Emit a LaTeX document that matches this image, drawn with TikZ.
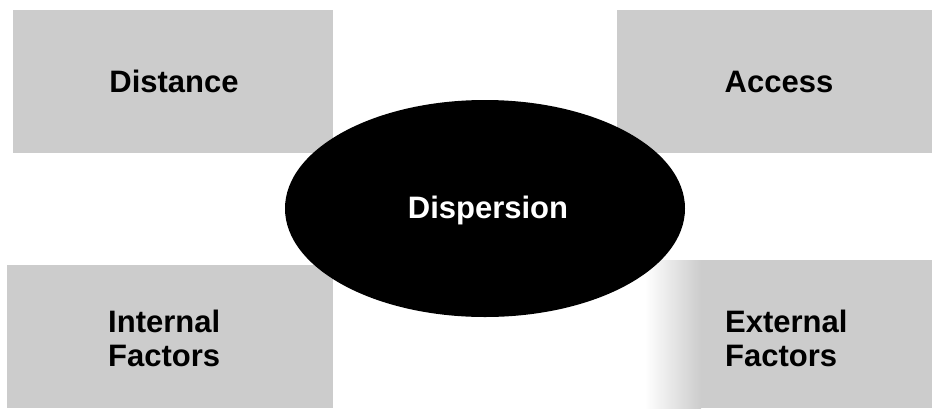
\documentclass[tikz,border=0pt]{standalone}
\usepackage{fontspec}
\setmainfont{Liberation Sans}
\usetikzlibrary{shapes.geometric}
\definecolor{boxgray}{gray}{0.80}
\tikzset{
  box/.style={fill=boxgray, draw=none, inner sep=0pt, minimum width=#1},
  lbl/.style={font=\fontsize{31}{34}\selectfont\bfseries, text=black, inner sep=0pt},
}
\begin{document}
\begin{tikzpicture}[x=1pt,y=-1pt]
\useasboundingbox (0,0) rectangle (939,408);
\fill[white] (0,0) rectangle (939,408);
% boxes
\node[box=320pt, minimum height=143pt] (bdist) at (173,81.5) {};
\node[box=315pt, minimum height=143pt] (bacc) at (774.5,81.5) {};
\node[box=326pt, minimum height=143pt] (bint) at (170,336.5) {};
\node[box=232pt, minimum height=148pt] (bext) at (816,334) {};
\shade[left color=white, right color=boxgray] (645,260) rectangle (701,408);
% ellipse
\node[ellipse, fill=black, minimum width=400pt, minimum height=217pt, inner sep=0pt] (disp) at (485,208.5) {};
% labels
\node[lbl, anchor=base] (tdist) at (174,92) {Distance};
\node[lbl, anchor=base] (tacc) at (779,92) {Access};
\node[lbl, anchor=base, text=white] (tdisp) at (488,218) {Dispersion};
\node[lbl, anchor=north west, align=left] (tint) at (108,309.5) {Internal\\Factors};
\node[lbl, anchor=north west, align=left] (text) at (725,309.5) {External\\Factors};
\end{tikzpicture}
\end{document}
